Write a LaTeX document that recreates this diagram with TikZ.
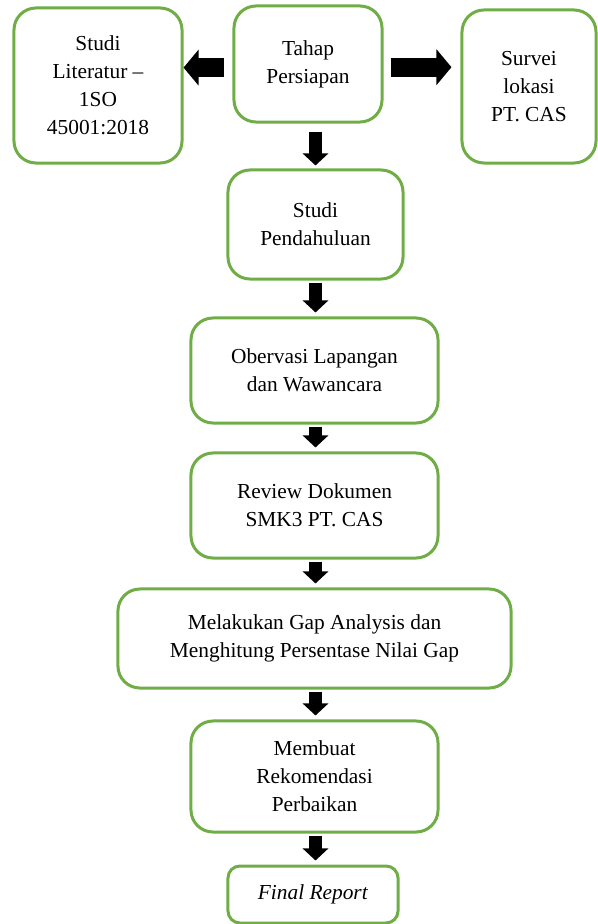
\documentclass[tikz,border=0pt]{standalone}
\usepackage{fontspec}
\setmainfont{Liberation Serif}
\usepackage{xcolor}
\usepackage{tikz}
\usetikzlibrary{arrows.meta}
\usetikzlibrary{calc}

\definecolor{boxgreen}{HTML}{70AD47}

\begin{document}
\begin{tikzpicture}[x=0.025cm, y=-0.025cm]%%alur

                \tikzstyle{box}  = [rectangle, rounded corners=0.55cm, draw=boxgreen, line width=0.075cm, fill=white, align=center, inner sep=0pt, font=\fontsize{15.2}{20}\selectfont]
                \tikzstyle{darrow} = [line width=0.325cm, -{Triangle[width=0.625cm, length=0.3cm]}]
                \tikzstyle{harrow} = [line width=0.475cm, -{Triangle[width=0.875cm, length=0.375cm]}]
                \useasboundingbox (0,0) rectangle (597,924);

                \node [box, minimum width=4.2cm, minimum height=3.875cm](lit) at (98,85.5) {Studi\\Literatur --\\1SO\\45001:2018};
                \node [box, minimum width=3.7cm, minimum height=2.9cm](tahap) at (308,64) {Tahap\\Persiapan};
                \node [box, minimum width=3.35cm, minimum height=3.825cm](survei) at (529,86.5) {Survei\\lokasi\\PT. CAS};
                \node [box, minimum width=4.375cm, minimum height=2.725cm](pend) at (315.5,224.5) {Studi\\Pendahuluan};
                \node [box, minimum width=6.175cm, minimum height=2.625cm](obs) at (314.5,370.5) {Obervasi Lapangan\\dan Wawancara};
                \node [box, minimum width=6.175cm, minimum height=2.625cm](rev) at (314.5,505.5) {Review Dokumen\\SMK3 PT. CAS};
                \node [box, minimum width=9.825cm, minimum height=2.475cm](gap) at (314.5,638.5) {Melakukan Gap Analysis dan\\Menghitung Persentase Nilai Gap};
                \node [box, minimum width=6.175cm, minimum height=2.775cm](rek) at (314.5,776.5) {Membuat\\Rekomendasi\\Perbaikan};
                \node [box, rounded corners=0.3cm, minimum width=4.25cm, minimum height=1.425cm](final) at (313,894.5) {\textit{Final Report}};

                \draw [harrow, shorten <=0.2cm] ([yshift=-0.09cm]tahap.west) -- ([yshift=-0.09cm]tahap.west -| lit.east);
                \draw [harrow, shorten <=0.175cm, shorten >=0.225cm] ([yshift=-0.08cm]tahap.east) -- ([yshift=-0.08cm]tahap.east -| survei.west);
                \draw [darrow, shorten <=0.2cm, shorten >=0.075cm] (tahap.south -| pend.north) -- (pend.north);
                \foreach \a/\b in {pend/obs, obs/rev, rev/gap, gap/rek, rek/final}
                {
                        \draw [darrow, shorten <=0.05cm, shorten >=0.1cm] (\a.south -| pend.north) -- (\b.north -| pend.north);
                }
\end{tikzpicture}
\end{document}
